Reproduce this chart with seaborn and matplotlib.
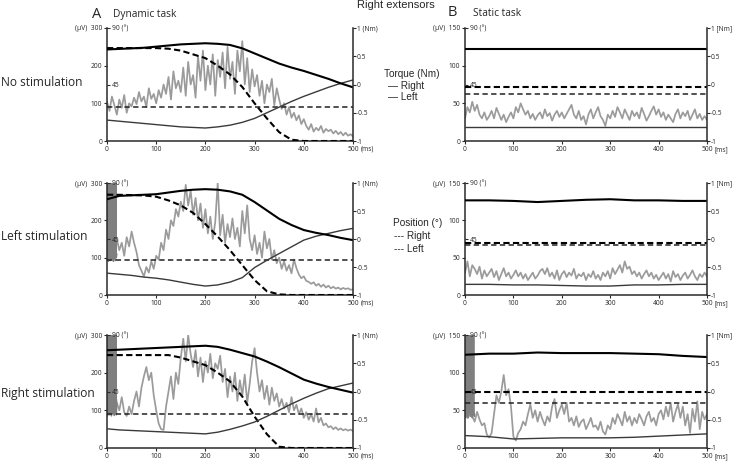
"""EMG, torque and position traces of the right extensors: dynamic vs static task."""

import matplotlib
matplotlib.use("Agg")
import matplotlib.pyplot as plt
import matplotlib.transforms as mtransforms
import numpy as np
import seaborn as sns

# time bases (ms)
T_EMG = np.arange(0, 501, 5)
T_ART = np.arange(0, 21, 1)
T_SMOOTH = np.arange(0, 501, 25)
T_FLAT = np.arange(0, 501, 50)
T_ENDS = [0, 500]

# ---------------- A: dynamic task ----------------
# EMG (uV), every 5 ms
EMG_A_NOSTIM = [
    105, 80, 118, 95, 70, 110, 88, 122, 75, 100, 92,
    115, 98, 130, 105, 118, 90, 140, 112, 125, 100,
    135, 115, 150, 125, 170, 110, 185, 140, 160, 130,
    195, 120, 210, 150, 175, 115, 225, 160, 240, 135,
    200, 150, 230, 120, 215, 170, 235, 140, 250, 165,
    210, 125, 240, 185, 265, 150, 220, 130, 190, 145,
    175, 120, 160, 100, 150, 130, 165, 95, 140, 110,
    85, 100, 70, 90, 62, 75, 55, 68, 45, 58,
    40, 30, 45, 25, 35, 28, 40, 22, 32, 26,
    30, 20, 27, 18, 24, 15, 22, 14, 18, 12,
]
EMG_A_LEFT = [
    120, 140, 110, 95, 150, 120, 140, 105, 155, 130, 170,
    140, 115, 80, 65, 50, 75, 60, 90, 70, 105,
    95, 140, 120, 175, 150, 200, 185, 230, 210, 250,
    225, 295, 240, 280, 215, 260, 200, 245, 180, 230,
    165, 210, 150, 195, 300, 160, 215, 140, 190, 155,
    205, 150, 180, 130, 225, 165, 240, 150, 120, 160,
    110, 140, 100, 170, 125, 150, 95, 120, 85, 100,
    70, 90, 65, 80, 58, 95, 72, 55, 45, 50,
    38, 35, 30, 34, 25, 30, 22, 28, 20, 25,
    18, 22, 17, 20, 15, 19, 16, 18, 14, 15,
]
EMG_A_RIGHT = [
    130, 150, 110, 160, 120, 100, 135, 95, 85, 110, 90,
    125, 150, 110, 160, 190, 215, 180, 200, 140, 100,
    65, 50, 48, 110, 150, 190, 130, 200, 170, 240,
    290, 230, 300, 250, 215, 260, 190, 240, 175, 230,
    200, 250, 185, 225, 210, 245, 175, 210, 135, 190,
    150, 200, 125, 180, 140, 195, 120, 170, 230, 265,
    200, 150, 180, 130, 165, 115, 160, 125, 145, 110,
    130, 105, 120, 95, 135, 100, 115, 90, 105, 80,
    95, 75, 90, 70, 105, 68, 80, 60, 65, 55,
    58, 50, 55, 48, 52, 47, 50, 46, 49, 45,
]
# stimulation artefact (uV), every 1 ms over the first 20 ms
ART_A_LEFT = [300, 95, 300, 90, 295, 100, 300, 92, 300, 95, 290,
              100, 300, 90, 300, 98, 295, 92, 300, 100, 110]
ART_A_RIGHT = [300, 85, 300, 90, 300, 88, 295, 95, 300, 85, 300,
               92, 300, 90, 298, 86, 300, 95, 300, 88, 120]

# torque (Nm), every 25 ms
TQ_R_A_NOSTIM = [0.62, 0.63, 0.64, 0.65, 0.67, 0.69, 0.71, 0.72, 0.73, 0.72, 0.70,
                 0.64, 0.55, 0.46, 0.37, 0.30, 0.24, 0.17, 0.10, 0.02, -0.05]
TQ_L_A_NOSTIM = [-0.63, -0.65, -0.67, -0.69, -0.71, -0.73, -0.75, -0.76, -0.77, -0.75, -0.72,
                 -0.67, -0.60, -0.50, -0.40, -0.30, -0.21, -0.13, -0.05, 0.02, 0.08]
TQ_R_A_LEFT = [0.71, 0.77, 0.78, 0.79, 0.80, 0.83, 0.86, 0.88, 0.89, 0.88, 0.85,
               0.79, 0.66, 0.51, 0.36, 0.25, 0.16, 0.11, 0.07, 0.02, -0.02]
TQ_L_A_LEFT = [-0.61, -0.63, -0.65, -0.68, -0.70, -0.73, -0.77, -0.81, -0.84, -0.82, -0.77,
               -0.69, -0.51, -0.38, -0.26, -0.14, -0.02, 0.05, 0.10, 0.15, 0.19]
TQ_R_A_RIGHT = [0.73, 0.74, 0.75, 0.76, 0.77, 0.78, 0.79, 0.80, 0.81, 0.79, 0.74,
                0.68, 0.62, 0.53, 0.43, 0.32, 0.21, 0.14, 0.08, 0.03, -0.02]
TQ_L_A_RIGHT = [-0.66, -0.68, -0.69, -0.70, -0.71, -0.72, -0.73, -0.74, -0.75, -0.72, -0.67,
                -0.61, -0.54, -0.44, -0.33, -0.22, -0.12, -0.03, 0.05, 0.10, 0.15]

# position (deg), right every 25 ms, left constant
POS_R_A_NOSTIM = [74, 74, 74, 74, 74, 73.5, 72, 69, 66, 60, 53,
                  43, 30, 18, 7, 1, 0, 0, 0, 0, 0]
POS_R_A_LEFT = [80.6, 80.5, 80.3, 80, 79, 76, 72, 66, 57, 47, 36,
                24, 12, 3, 0.5, 0, 0, 0, 0, 0, 0]
POS_R_A_RIGHT = [74, 74, 74, 74, 74, 74, 72, 69, 66, 60, 53,
                 41, 25, 11, 1, 0, 0, 0, 0, 0, 0]
POS_L_A_NOSTIM = [27.4, 27.4]
POS_L_A_LEFT = [28, 28]
POS_L_A_RIGHT = [27, 27]

# ---------------- B: static task ----------------
EMG_B_NOSTIM = [
    30, 45, 38, 52, 40, 48, 35, 30, 38, 28, 33,
    40, 30, 44, 36, 28, 35, 25, 32, 38, 30,
    45, 38, 50, 42, 35, 40, 30, 36, 28, 34,
    38, 30, 42, 33, 37, 27, 35, 40, 32, 38,
    30, 36, 42, 48, 35, 30, 40, 28, 33, 22,
    35, 42, 30, 38, 45, 33, 28, 20, 35, 30,
    40, 32, 45, 38, 30, 42, 35, 28, 40, 33,
    38, 30, 44, 36, 27, 33, 40, 46, 35, 42,
    32, 38, 28, 35, 30, 25, 36, 42, 30, 38,
    33, 40, 28, 35, 42, 30, 36, 28, 33, 28,
]
EMG_B_LEFT = [
    30, 45, 25, 40, 35, 28, 38, 22, 33, 25, 30,
    35, 24, 32, 20, 28, 36, 25, 30, 22, 27,
    33, 25, 30, 22, 28, 20, 25, 30, 22, 26,
    32, 35, 28, 36, 25, 30, 22, 33, 20, 28,
    32, 24, 30, 26, 35, 22, 28, 25, 30, 20,
    28, 24, 32, 22, 27, 20, 30, 25, 32, 22,
    36, 28, 34, 40, 30, 45, 35, 38, 28, 32,
    25, 30, 22, 28, 33, 25, 30, 22, 27, 20,
    25, 30, 22, 28, 18, 32, 24, 28, 20, 26,
    30, 22, 27, 33, 25, 20, 28, 24, 30, 25,
]
EMG_B_RIGHT = [
    45, 40, 55, 42, 35, 48, 38, 30, 33, 18, 14,
    20, 45, 70, 60, 75, 97, 70, 78, 55, 15,
    10, 20, 25, 35, 30, 45, 58, 40, 50, 35,
    48, 38, 30, 42, 35, 55, 65, 40, 50, 58,
    45, 60, 35, 40, 30, 42, 28, 35, 38, 25,
    32, 40, 28, 30, 24, 35, 22, 18, 30, 25,
    40, 32, 45, 38, 30, 48, 35, 42, 30, 40,
    33, 45, 38, 30, 42, 48, 35, 40, 30, 45,
    50, 38, 55, 42, 60, 35, 48, 58, 40, 55,
    30, 45, 20, 52, 35, 62, 25, 48, 38, 45,
]
ART_B_RIGHT = [150, 40, 150, 45, 148, 42, 150, 40, 150, 48, 150,
               42, 150, 45, 150, 40, 150, 44, 150, 42, 45]

# torque (Nm), every 50 ms
TQ_R_B_NOSTIM = [0.625] * 11
TQ_L_B_NOSTIM = [-0.76] * 11
TQ_R_B_LEFT = [0.69, 0.69, 0.68, 0.66, 0.68, 0.70, 0.71, 0.69, 0.69, 0.68, 0.68]
TQ_L_B_LEFT = [-0.81, -0.81, -0.82, -0.82, -0.83, -0.84, -0.84, -0.82, -0.82, -0.81, -0.81]
TQ_R_B_RIGHT = [0.65, 0.67, 0.67, 0.69, 0.68, 0.68, 0.68, 0.67, 0.66, 0.63, 0.61]
TQ_L_B_RIGHT = [-0.78, -0.80, -0.84, -0.83, -0.82, -0.82, -0.82, -0.81, -0.79, -0.77, -0.75]

# position (deg), constant
POS_R_B_NOSTIM = [43.3, 43.3]
POS_L_B_NOSTIM = [37.2, 37.2]
POS_R_B_LEFT = [42.0, 42.0]
POS_L_B_LEFT = [40.5, 40.5]
POS_R_B_RIGHT = [44.7, 44.7]
POS_L_B_RIGHT = [35.5, 35.5]

ROW_LABELS = ["No stimulation", "Left stimulation", "Right stimulation"]

sns.set_style("ticks")
plt.rcParams["font.family"] = ["Open Sans", "DejaVu Sans"]

W, H = 732, 462
fig = plt.figure(figsize=(W / 100, H / 100), dpi=100)

SPINE = "#2a2a2a"
TICK_FS = 4.8
TICK_LEN = 2.5
TICK_PAD = 1.0


def rect(x0, x1, y0, y1):
    return [x0 / W, 1 - y1 / H, (x1 - x0) / W, (y1 - y0) / H]


def draw_panel(r, emg, art, t_tq, tq_r, tq_l, t_pos, pos_r, pos_l, emg_max, static):
    ax = fig.add_axes(r)
    sns.lineplot(x=T_EMG, y=emg, ax=ax, color="#9b9b9b", lw=1.25)
    if art is not None:
        sns.lineplot(x=T_ART, y=art, ax=ax, color="#7f7f7f", lw=1.0)
    ax.set_xlim(0, 500)
    ax.set_ylim(0, emg_max)
    ax.set_xlabel("")
    ax.set_ylabel("")
    ax.set_xticks([0, 100, 200, 300, 400, 500])
    ax.set_xticklabels(["0", "100", "200", "300", "400", "500"])
    yt = [0, 50, 100, 150] if static else [0, 100, 200, 300]
    ax.set_yticks(yt)
    ax.set_yticklabels([str(v) for v in yt[:-1]] + [f"(μV)  {yt[-1]}"])
    ax.tick_params(length=TICK_LEN, width=0.8, pad=TICK_PAD, labelsize=TICK_FS, color=SPINE)
    for s in ["top", "right"]:
        ax.spines[s].set_visible(False)
    for s in ["left", "bottom"]:
        ax.spines[s].set_linewidth(1.1)
        ax.spines[s].set_color(SPINE)
    # time unit next to the last x tick label, on the same line
    trans, va, _ = ax.get_xaxis_text1_transform(TICK_LEN + TICK_PAD)
    trans = trans + mtransforms.ScaledTranslation(5.5 / 72, 0, fig.dpi_scale_trans)
    ax.text(500, 0, "[ms]" if static else "(ms)", transform=trans, va=va, ha="left",
            fontsize=TICK_FS)

    # joint angle axis (inside, on the left spine)
    ang = ax.twinx()
    sns.lineplot(x=t_pos, y=pos_r, ax=ang, color="black", lw=1.5, linestyle=(0, (3, 1.6)))
    sns.lineplot(x=T_ENDS, y=pos_l, ax=ang, color="#222222", lw=1.1, linestyle=(0, (3.5, 2.2)))
    ang.set_ylim(0, 90)
    ang.set_ylabel("")
    ang.yaxis.set_ticks_position("left")
    ang.set_yticks([45, 90])
    ang.set_yticklabels(["45", "90 (°)"])
    ang.tick_params(axis="y", direction="in", length=2.5, width=0.8, pad=-3.5,
                    labelsize=TICK_FS, labelleft=True, labelright=False, color=SPINE)
    for lbl in ang.get_yticklabels():
        lbl.set_horizontalalignment("left")
    for s in ang.spines.values():
        s.set_visible(False)

    # torque axis (right)
    tq = ax.twinx()
    sns.lineplot(x=t_tq, y=tq_l, ax=tq, color="#3a3a3a", lw=1.0)
    sns.lineplot(x=t_tq, y=tq_r, ax=tq, color="black", lw=1.5)
    tq.set_ylim(-1, 1)
    tq.set_ylabel("")
    tq.set_yticks([-1, -0.5, 0, 0.5, 1])
    top = "1 [Nm]" if static else "1 (Nm)"
    tq.set_yticklabels(["-1", "-0.5", "0", "0.5", top])
    tq.tick_params(axis="y", length=2.2, width=0.8, pad=0.6, labelsize=TICK_FS, color=SPINE)
    for s in ["top", "left", "bottom"]:
        tq.spines[s].set_visible(False)
    tq.spines["right"].set_linewidth(1.1)
    tq.spines["right"].set_color(SPINE)


ROWS_PX = [(28, 141), (183, 295), (335, 448)]
A_X = (107, 353)
B_X = (465, 707)

draw_panel(rect(*A_X, *ROWS_PX[0]), EMG_A_NOSTIM, None, T_SMOOTH, TQ_R_A_NOSTIM, TQ_L_A_NOSTIM,
           T_SMOOTH, POS_R_A_NOSTIM, POS_L_A_NOSTIM, 300, False)
draw_panel(rect(*A_X, *ROWS_PX[1]), EMG_A_LEFT, ART_A_LEFT, T_SMOOTH, TQ_R_A_LEFT, TQ_L_A_LEFT,
           T_SMOOTH, POS_R_A_LEFT, POS_L_A_LEFT, 300, False)
draw_panel(rect(*A_X, *ROWS_PX[2]), EMG_A_RIGHT, ART_A_RIGHT, T_SMOOTH, TQ_R_A_RIGHT, TQ_L_A_RIGHT,
           T_SMOOTH, POS_R_A_RIGHT, POS_L_A_RIGHT, 300, False)
draw_panel(rect(*B_X, *ROWS_PX[0]), EMG_B_NOSTIM, None, T_FLAT, TQ_R_B_NOSTIM, TQ_L_B_NOSTIM,
           T_ENDS, POS_R_B_NOSTIM, POS_L_B_NOSTIM, 150, True)
draw_panel(rect(*B_X, *ROWS_PX[1]), EMG_B_LEFT, None, T_FLAT, TQ_R_B_LEFT, TQ_L_B_LEFT,
           T_ENDS, POS_R_B_LEFT, POS_L_B_LEFT, 150, True)
draw_panel(rect(*B_X, *ROWS_PX[2]), EMG_B_RIGHT, ART_B_RIGHT, T_FLAT, TQ_R_B_RIGHT, TQ_L_B_RIGHT,
           T_ENDS, POS_R_B_RIGHT, POS_L_B_RIGHT, 150, True)


def ftext(x, y, s, **kw):
    fig.text(x / W, 1 - y / H, s, va="center", **kw)


ftext(92, 14, "A", fontsize=10.5)
ftext(113, 15, "Dynamic task", fontsize=7.3)
ftext(448, 13, "B", fontsize=10.5)
ftext(473, 13, "Static task", fontsize=7.3)
ftext(357, 5, "Right extensors", fontsize=8, family=["Liberation Sans", "DejaVu Sans"])

for label, y in zip(ROW_LABELS, [82, 237, 393]):
    ftext(1, y, label, fontsize=8.6)

LEG = dict(fontsize=7.2, family=["Liberation Sans", "DejaVu Sans"])
ftext(384, 74, "Torque (Nm)", **LEG)
ftext(388, 86, "— Right", **LEG)
ftext(388, 97, "— Left", **LEG)
ftext(393, 223, "Position (°)", **LEG)
ftext(394, 236, "--- Right", **LEG)
ftext(394, 249, "--- Left", **LEG)

fig.savefig("out.png", dpi=100)
